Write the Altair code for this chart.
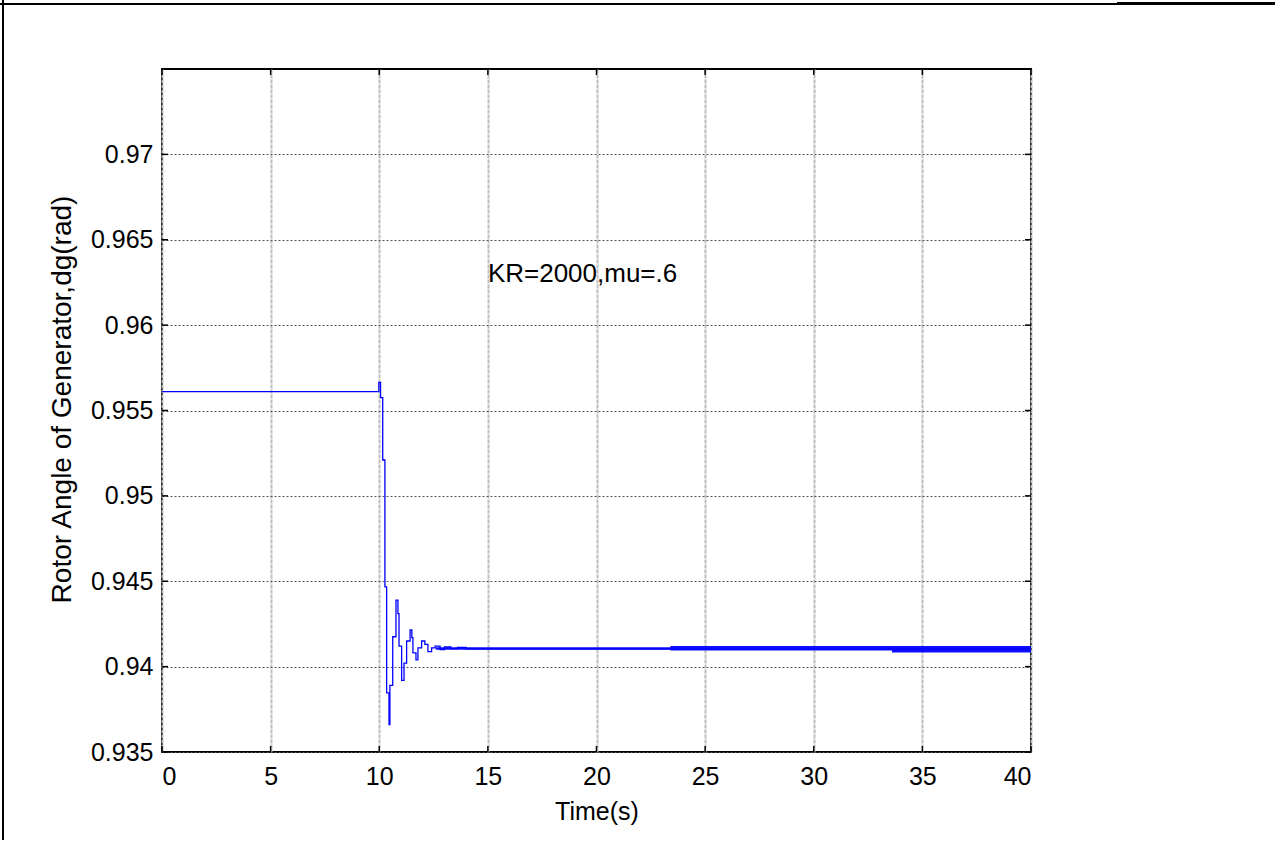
import altair as alt
import pandas as pd

# ---- data ----
t_vals = [0, 9.98, 10.06, 10.16, 10.26, 10.34, 10.45, 10.49, 10.62, 10.77, 10.86,
          10.91, 11.03, 11.14, 11.26, 11.42, 11.50, 11.55, 11.69, 11.78, 11.95,
          12.10, 12.24, 12.41, 12.57, 12.80, 13.00, 13.30, 13.60, 14.00, 40.0]
angle_vals = [0.95610, 0.95665, 0.95575, 0.95210, 0.94467, 0.93846, 0.93660, 0.93890,
              0.94175, 0.94390, 0.94310, 0.94120, 0.93920, 0.94020, 0.94150, 0.94215,
              0.94170, 0.94080, 0.94040, 0.94110, 0.94150, 0.94130, 0.94088, 0.94110,
              0.94120, 0.94100, 0.94115, 0.94105, 0.94112, 0.94104, 0.94104]

# fast-oscillation band after the transient
band_t = [12.6, 23.4, 33.6, 40.0]
band_hi = [0.94113, 0.94121, 0.94121, 0.94121]
band_lo = [0.94099, 0.94094, 0.94082, 0.94082]

x_ticks = [0, 5, 10, 15, 20, 25, 30, 35, 40]
y_ticks = [0.935, 0.94, 0.945, 0.95, 0.955, 0.96, 0.965, 0.97]

note_text = ["KR=2000,mu=.6"]
note_t = [15.0]
note_v = [0.96255]

W, H = 869, 683
FONT = "Liberation Sans"

df_line = pd.DataFrame({"t": t_vals, "angle": angle_vals})
df_band = pd.DataFrame({"t": band_t, "angle": band_hi, "lo": band_lo})
df_xt = pd.DataFrame({"t": x_ticks})
df_yt = pd.DataFrame({"angle": y_ticks})
df_note = pd.DataFrame({"t": note_t, "angle": note_v, "txt": note_text})

xs = alt.Scale(domain=[0, 40], nice=False, zero=False)
ys = alt.Scale(domain=[0.935, 0.975], nice=False, zero=False)

x_axis = alt.Axis(values=x_ticks, format="d", title="Time(s)", grid=True,
                  gridColor="#bdbdbd", gridWidth=2, gridDash=[4, 1],
                  ticks=False, tickSize=0, domain=False, labelPadding=12,
                  labelFontSize=25, labelFont=FONT, labelColor="black",
                  titleFontSize=25, titleFont=FONT, titleFontWeight="normal",
                  titleColor="black", titleX=W / 2, titleY=67,
                  titleBaseline="alphabetic", titleAlign="center")
y_axis = alt.Axis(values=y_ticks, format=".3~f",
                  title="Rotor Angle of Generator,dg(rad)", grid=True,
                  gridColor="#555555", gridWidth=1, gridDash=[2, 2],
                  ticks=False, tickSize=0, domain=False, labelPadding=9,
                  labelFontSize=25, labelFont=FONT, labelColor="black",
                  titleFontSize=28, titleFont=FONT, titleFontWeight="normal",
                  titleColor="black", titleX=-86, titleY=330, titleAngle=270,
                  titleBaseline="bottom", titleAlign="center")

X = alt.X("t:Q", scale=xs, axis=x_axis)
Y = alt.Y("angle:Q", scale=ys, axis=y_axis)

line = alt.Chart(df_line).mark_line(interpolate="step-after", color="#0000ff",
                                    strokeWidth=1.3).encode(x=X, y=Y)

band = alt.Chart(df_band).mark_area(interpolate="step-after", color="#0000ff",
                                    opacity=0.95).encode(x=X, y=Y, y2="lo:Q")

tick_style = dict(color="black", strokeWidth=1.5)
xt_bot = alt.Chart(df_xt).mark_rule(**tick_style).encode(
    x=X, y=alt.value(H), y2=alt.value(H - 6))
xt_top = alt.Chart(df_xt).mark_rule(**tick_style).encode(
    x=X, y=alt.value(0), y2=alt.value(6))
yt_left = alt.Chart(df_yt).mark_rule(**tick_style).encode(
    y=Y, x=alt.value(0), x2=alt.value(6))
yt_right = alt.Chart(df_yt).mark_rule(**tick_style).encode(
    y=Y, x=alt.value(W - 6), x2=alt.value(W))

note = alt.Chart(df_note).mark_text(align="left", baseline="alphabetic",
                                    font=FONT, fontSize=26, color="black").encode(
    x=X, y=Y, text="txt:N")

# page frame lines seen in the reference screenshot
frame_left = alt.Chart(df_xt).mark_rule(color="black", strokeWidth=2).encode(
    x=alt.value(-159), y=alt.value(-69), y2=alt.value(H + 93))
frame_top = alt.Chart(df_xt).mark_rule(color="black", strokeWidth=1.2).encode(
    x=alt.value(-162), x2=alt.value(955), y=alt.value(-65))
frame_top2 = alt.Chart(df_xt).mark_rule(color="black", strokeWidth=2.5).encode(
    x=alt.value(955), x2=alt.value(1117), y=alt.value(-65.5))

chart = alt.layer(line, band, xt_bot, xt_top, yt_left, yt_right, note,
                  frame_left, frame_top, frame_top2).properties(
    width=W, height=H,
    padding={"left": 162, "top": 69, "right": 244, "bottom": 88},
    autosize=alt.AutoSizeParams(type="none"),
    background="white",
).configure_view(stroke="black", strokeWidth=2)

chart.save("out.html", embed_options={"renderer": "svg", "actions": False})
